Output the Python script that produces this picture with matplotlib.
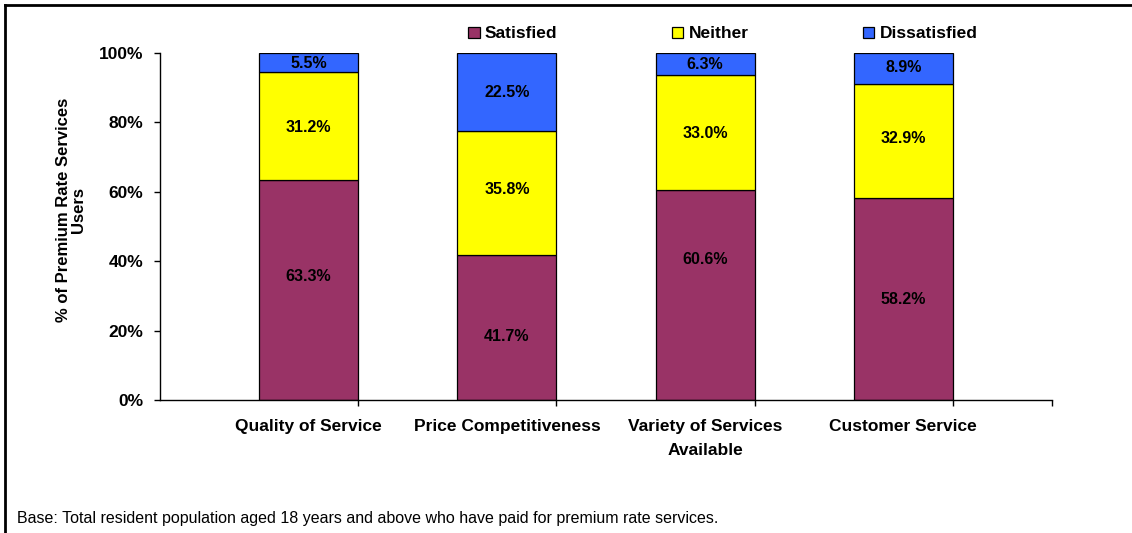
import matplotlib
matplotlib.use("Agg")
import matplotlib.pyplot as plt
from matplotlib.patches import Patch
from matplotlib.lines import Line2D
import numpy as np

plt.rcParams['font.family'] = ['Liberation Sans', 'DejaVu Sans']

# Survey results (% of premium rate services users)
categories = ["Quality of Service", "Price Competitiveness",
              "Variety of Services\nAvailable", "Customer Service"]
satisfied = [63.3, 41.7, 60.6, 58.2]
neither = [31.2, 35.8, 33.0, 32.9]
dissatisfied = [5.5, 22.5, 6.3, 8.9]

series_names = ["Satisfied", "Neither", "Dissatisfied"]
colors = ["#993366", "#FFFF00", "#3366FF"]

# where each label sits inside its segment (0 = bottom, 1 = top)
label_pos = [
    [0.56, 0.44, 0.67, 0.50],
    [0.49, 0.53, 0.49, 0.52],
    [0.47, 0.50, 0.49, 0.52],
]

fig = plt.figure(figsize=(11.32, 5.33), dpi=100)
ax = fig.add_axes([160 / 1132, 1 - 400 / 533, (1052 - 160) / 1132, (400 - 53) / 533])

x = np.arange(len(categories))
bottom = np.zeros(len(categories))
for vals, col, pos in zip([satisfied, neither, dissatisfied], colors, label_pos):
    vals = np.array(vals)
    ax.bar(x, vals, width=0.5, bottom=bottom, color=col,
           edgecolor="black", linewidth=0.9, zorder=2)
    for xi, b, v, p in zip(x, bottom, vals, pos):
        ax.text(xi, b + v * p, f"{v:.1f}%", ha="center", va="center",
                fontsize=11.5, fontweight="bold", zorder=3)
    bottom += vals

ax.set_xlim(-0.75, 3.75)
ax.set_ylim(0, 100)
ax.set_yticks(np.arange(0, 101, 20))
ax.set_yticklabels([f"{v}%" for v in range(0, 101, 20)])

ax.set_xticks(x)
ax.set_xticklabels(categories)
ax.set_xticks(np.append(x + 0.25, 3.75), minor=True)
ax.tick_params(axis="x", which="major", length=0, pad=14, labelsize=12.5)
ax.tick_params(axis="x", which="minor", length=4, width=1, direction="out")
ax.tick_params(axis="y", length=4, width=1, direction="out", pad=8, labelsize=12.5)
for lab in ax.get_xticklabels() + ax.get_yticklabels():
    lab.set_fontweight("bold")
    lab.set_linespacing(1.7)

for s in ["top", "right"]:
    ax.spines[s].set_visible(False)
for s in ["left", "bottom"]:
    ax.spines[s].set_linewidth(1.0)

fig.text(71 / 1132, 1 - 210 / 533, "% of Premium Rate Services\nUsers",
         rotation=90, ha="center", va="center", fontsize=12,
         fontweight="bold", multialignment="center", linespacing=0.95)

handles = [Patch(facecolor=c, edgecolor="black", linewidth=0.9) for c in colors]
leg = fig.legend(handles, series_names, loc="center",
                 bbox_to_anchor=(723 / 1132, 1 - 34 / 533), ncol=3,
                 frameon=False, handlelength=0.65, handleheight=0.65,
                 handletextpad=0.3, columnspacing=6.6,
                 prop={"size": 12.5, "weight": "bold"})

fig.text(17 / 1132, 1 - 519 / 533,
         "Base: Total resident population aged 18 years and above who have paid for premium rate services.",
         ha="left", va="center", fontsize=11.5)

# page frame
fig.add_artist(Line2D([5 / 1132, 1], [1 - 5 / 533, 1 - 5 / 533],
                      transform=fig.transFigure, color="black", linewidth=2))
fig.add_artist(Line2D([5 / 1132, 5 / 1132], [0, 1 - 5 / 533],
                      transform=fig.transFigure, color="black", linewidth=2))

fig.savefig("out.png", dpi=100)
